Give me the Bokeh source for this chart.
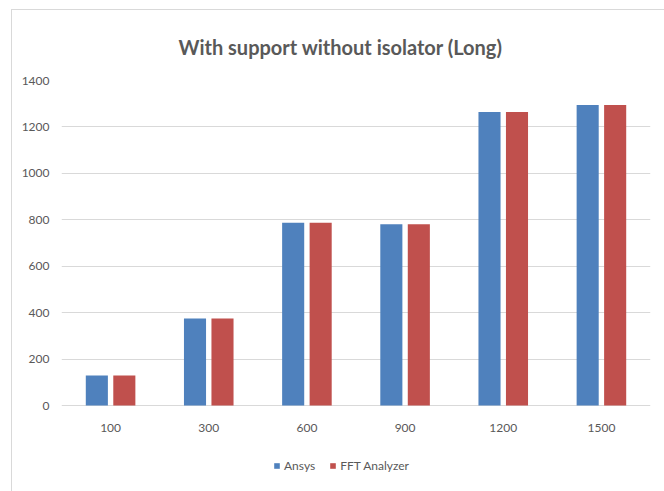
from bokeh.plotting import figure
from bokeh.models import ColumnDataSource, Range1d, FactorRange, Legend, LegendItem, Title
from bokeh.transform import dodge
from bokeh.core.properties import value
from bokeh.embed import file_html
from bokeh.resources import INLINE

# Frequency settings (categories) and measured natural frequency values
categories = ["100", "300", "600", "900", "1200", "1500"]
ansys = [129, 375, 787, 781, 1264, 1294]
fft_analyzer = [129, 375, 787, 781, 1264, 1294]
y_ticks = [0, 200, 400, 600, 800, 1000, 1200, 1400]

source = ColumnDataSource(data=dict(cat=categories, ansys=ansys, fft=fft_analyzer))

FONT = "Lato"
GRAY = "#595959"
GRID = "#d9d9d9"

# the plot frame reaches the bottom edge so the category labels and the
# legend can live inside it, below the zero line
FRAME_H = 411
VALUE_H = 325
y_top = y_ticks[-1]
y_bottom = -(FRAME_H - VALUE_H) / VALUE_H * y_top

p = figure(
    width=652, height=481,
    frame_width=589, frame_height=FRAME_H,
    x_range=FactorRange(*categories),
    y_range=Range1d(y_bottom, y_top),
    x_axis_location=None,
    output_backend="svg", toolbar_location=None,
    min_border_left=49, min_border_right=14,
    min_border_top=70, min_border_bottom=0,
)
# thin chart-area frame along the left and top edges
p.styles = {
    "margin-left": "11px", "margin-top": "9px",
    "border-left": f"1px solid {GRID}", "border-top": f"1px solid {GRID}",
}

title = Title(text="With support without isolator (Long)", align="left", offset=117,
              text_font=FONT, text_font_size="20px", text_font_style="bold",
              text_color=GRAY, standoff=44)
p.add_layout(title, "above")

r1 = p.vbar(x=dodge("cat", -0.14, range=p.x_range), top="ansys", width=0.225,
            source=source, fill_color="#4F81BD", line_color=None)
r2 = p.vbar(x=dodge("cat", 0.14, range=p.x_range), top="fft", width=0.225,
            source=source, fill_color="#C0504D", line_color=None)

# category labels under the zero line
p.text(x="cat", y=0, text="cat", source=source, y_offset=22,
       text_align="center", text_baseline="middle",
       text_font=value(FONT), text_font_size="12px", text_color=GRAY)

p.outline_line_color = None
p.background_fill_color = "white"
p.border_fill_color = "white"

p.xgrid.grid_line_color = None
p.ygrid.grid_line_color = GRID
p.ygrid.grid_line_width = 1
p.yaxis.ticker = y_ticks

p.yaxis.axis_line_color = None
p.yaxis.major_tick_line_color = None
p.yaxis.minor_tick_line_color = None
p.yaxis.major_tick_out = 0
p.yaxis.major_label_text_font = FONT
p.yaxis.major_label_text_font_size = "12px"
p.yaxis.major_label_text_color = GRAY
p.yaxis.major_label_standoff = 12

legend = Legend(items=[LegendItem(label="Ansys", renderers=[r1]),
                       LegendItem(label="FFT Analyzer", renderers=[r2])],
                orientation="horizontal", location=(212, 18),
                label_text_font=FONT, label_text_font_size="12px",
                label_text_color=GRAY, glyph_width=7, glyph_height=7,
                label_standoff=4, spacing=14, border_line_color=None,
                background_fill_alpha=0, margin=0, padding=4)
p.add_layout(legend)

open("out.html", "w").write(file_html(p, INLINE))
